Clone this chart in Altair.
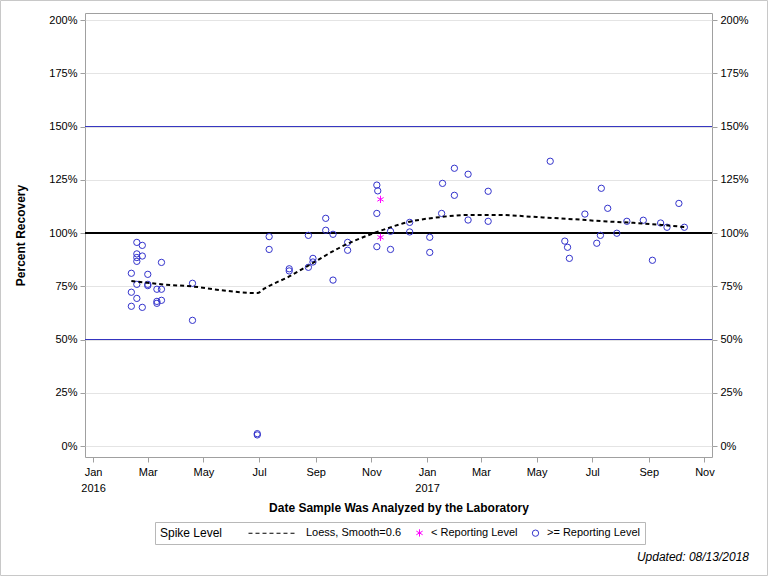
import altair as alt
import pandas as pd

# ---- data -------------------------------------------------------------
# Spike recoveries at or above the reporting level
ge_dates = [
    "2016-02-12", "2016-02-12", "2016-02-12",
    "2016-02-18", "2016-02-18", "2016-02-18", "2016-02-18", "2016-02-18", "2016-02-18",
    "2016-02-24", "2016-02-24", "2016-02-24",
    "2016-03-01", "2016-03-01", "2016-03-01",
    "2016-03-11", "2016-03-11", "2016-03-11",
    "2016-03-16", "2016-03-16", "2016-03-16",
    "2016-04-19", "2016-04-19",
    "2016-06-29", "2016-06-29",
    "2016-07-12", "2016-07-12",
    "2016-08-03", "2016-08-03",
    "2016-08-24", "2016-08-24",
    "2016-08-29", "2016-08-29",
    "2016-09-12", "2016-09-12",
    "2016-09-20", "2016-09-20",
    "2016-10-06", "2016-10-06",
    "2016-11-07", "2016-11-08", "2016-11-07", "2016-11-07",
    "2016-11-22", "2016-11-22",
    "2016-12-13", "2016-12-13",
    "2017-01-04", "2017-01-04",
    "2017-01-17", "2017-01-18",
    "2017-01-31", "2017-01-31",
    "2017-02-15", "2017-02-15",
    "2017-03-09", "2017-03-09",
    "2017-05-16",
    "2017-06-01", "2017-06-04", "2017-06-06",
    "2017-06-23",
    "2017-07-06", "2017-07-10", "2017-07-11", "2017-07-18", "2017-07-28",
    "2017-08-08", "2017-08-26",
    "2017-09-05", "2017-09-14", "2017-09-21",
    "2017-10-04", "2017-10-10",
]
ge_values = [
    81.1, 72.2, 65.6,
    95.6, 90.2, 88.5, 86.7, 75.9, 69.3,
    94.2, 89.2, 65.1,
    80.6, 75.9, 75.3,
    73.6, 67.9, 67.0,
    86.2, 73.6, 68.4,
    76.4, 59.0,
    5.2, 5.8,
    98.3, 92.3,
    83.2, 82.2,
    98.9, 83.9,
    88.1, 86.4,
    106.9, 101.3,
    99.4, 77.9,
    95.6, 91.9,
    122.5, 119.8, 109.2, 93.6,
    100.8, 92.3,
    105.0, 100.5,
    98.0, 90.9,
    109.2, 123.3,
    130.4, 117.7,
    127.6, 106.1,
    119.6, 105.5,
    133.7,
    96.2, 93.3, 88.1,
    108.9,
    95.2, 98.9, 121.0, 111.6, 99.9,
    105.5, 106.0,
    87.2, 104.7, 102.7,
    113.9, 102.7,
]

# Spike recoveries below the reporting level
lt_dates = ["2016-11-11", "2016-11-11"]
lt_values = [115.8, 98.0]

# Loess fit (smoothing parameter 0.6)
loess_dates = [
    "2016-02-12", "2016-03-20", "2016-04-19", "2016-05-20", "2016-06-29",
    "2016-07-07", "2016-08-03", "2016-08-22", "2016-09-28", "2016-11-08",
    "2016-12-13", "2017-01-16", "2017-02-15", "2017-03-20", "2017-05-01",
    "2017-06-10", "2017-07-10", "2017-08-15", "2017-09-15", "2017-10-10",
]
loess_values = [
    77.5, 75.8, 74.9, 73.2, 71.8,
    74.0, 79.6, 84.2, 93.3, 100.6,
    105.3, 107.5, 108.5, 108.5, 107.5,
    106.5, 105.6, 104.8, 103.8, 102.8,
]

ref_blue = [50, 150]
ref_black = [100]

series_names = ["Loess, Smooth=0.6", "< Reporting Level", ">= Reporting Level"]
series_colors = ["black", "#ff00ff", "#3333cc"]
y_ticks = [0, 25, 50, 75, 100, 125, 150, 175, 200]
x_ticks = [(2016, m) for m in (1, 3, 5, 7, 9, 11)] + [(2017, m) for m in (1, 3, 5, 7, 9, 11)]
updated_text = "Updated: 08/13/2018"

# ---- tables -------------------------------------------------------------
points = pd.DataFrame({
    "date": [d + "T00:00:00" for d in lt_dates + ge_dates],
    "pct": lt_values + ge_values,
    "series": [series_names[1]] * len(lt_dates) + [series_names[2]] * len(ge_dates),
})
loess = pd.DataFrame({
    "date": [d + "T00:00:00" for d in loess_dates],
    "pct": loess_values,
})

# ---- symbols ------------------------------------------------------------
PT_SIZE = 40
unit = (PT_SIZE ** 0.5) / 2.0  # custom symbol paths are scaled by sqrt(size)/2
# dashed line used as the loess legend key
dash_px = [(-46 + 7 * i, -42 + 7 * i) for i in range(7)]
dash_path = "".join(f"M{a / unit:.3f},0L{b / unit:.3f},0" for a, b in dash_px)
asterisk_path = "M0,-1.15L0,1.15M-1,-0.58L1,0.58M-1,0.58L1,-0.58"
series_shapes = [dash_path, asterisk_path, "circle"]

FONT = "Liberation Sans"

x_scale = alt.Scale(domain=[
    alt.DateTime(year=2015, month=12, date=23, hours=5),
    alt.DateTime(year=2017, month=11, date=9, hours=7),
])
y_scale = alt.Scale(domain=[-5.16, 203.3], nice=False, zero=False)

x_axis = alt.Axis(
    values=[alt.DateTime(year=y, month=m, date=1) for y, m in x_ticks],
    labelExpr="month(datum.value) == 0 ? [timeFormat(datum.value, '%b'), timeFormat(datum.value, '%Y')] : timeFormat(datum.value, '%b')",
    title="Date Sample Was Analyzed by the Laboratory",
    titleFontSize=12, titleFontWeight="bold", titlePadding=9,
    labelFontSize=11, labelLineHeight=16, labelPadding=4,
    tickSize=5, grid=False, domain=False, labelFlush=False, labelOverlap=False,
)
y_axis_left = alt.Axis(
    values=y_ticks, labelExpr="datum.value + '%'",
    title="Percent Recovery", titleFontSize=12, titleFontWeight="bold", titlePadding=21,
    labelFontSize=11, labelPadding=3, tickSize=5,
    grid=True, gridColor="#e4e4e4", domain=False,
)
y_axis_right = alt.Axis(
    values=y_ticks, labelExpr="datum.value + '%'", orient="right",
    title=None, labelFontSize=11, labelPadding=3, tickSize=5,
    grid=False, domain=False,
)

X = alt.X("date:T", scale=x_scale, axis=x_axis, title=x_axis.title)

# left axis with grid
grid_layer = alt.Chart(points).mark_point(opacity=0).encode(
    x=X, y=alt.Y("pct:Q", scale=y_scale, axis=y_axis_left),
)

# mirrored axis on the right
right_axis_layer = alt.Chart(points).mark_point(opacity=0).encode(
    x=X, y=alt.Y("pct:Q", scale=y_scale, axis=y_axis_right),
)

blue_refs = alt.Chart(pd.DataFrame({"pct": ref_blue})).mark_rule(
    color="#3434c0", strokeWidth=1
).encode(y=alt.Y("pct:Q", scale=y_scale, axis=None))

black_ref = alt.Chart(pd.DataFrame({"pct": ref_black})).mark_rule(
    color="black", strokeWidth=2
).encode(y=alt.Y("pct:Q", scale=y_scale, axis=None))

point_layer = alt.Chart(points).mark_point(
    filled=False, size=PT_SIZE, strokeWidth=1, opacity=1
).encode(
    x=X,
    y=alt.Y("pct:Q", scale=y_scale, axis=None),
    color=alt.Color("series:N", scale=alt.Scale(domain=series_names, range=series_colors),
                    legend=alt.Legend(title="Spike Level")),
    shape=alt.Shape("series:N", scale=alt.Scale(domain=series_names, range=series_shapes),
                    legend=alt.Legend(title="Spike Level")),
)

loess_layer = alt.Chart(loess).mark_line(
    color="black", strokeDash=[4, 3], strokeWidth=2, interpolate="monotone"
).encode(
    x=X, y=alt.Y("pct:Q", scale=y_scale, axis=None),
)

# light frame around the whole graphic
frame = alt.Chart(pd.DataFrame({"k": [0]})).mark_rect(
    fill=None, stroke="#c8c8c8", strokeWidth=1
).encode(
    x=alt.value(-84.5), x2=alt.value(682.5),
    y=alt.value(-12.5), y2=alt.value(562.5),
)

# footnote in the lower right corner
footnote = alt.Chart(pd.DataFrame({"t": [updated_text]})).mark_text(
    align="right", baseline="alphabetic", fontStyle="italic", fontSize=12,
    font=FONT, color="black",
).encode(text="t:N", x=alt.value(664), y=alt.value(548))

chart = alt.layer(
    grid_layer, right_axis_layer, blue_refs, black_ref, point_layer, loess_layer,
    frame, footnote,
).resolve_axis(y="independent").properties(
    width=627, height=444,
    autosize=alt.AutoSizeParams(type="none"),
    padding={"left": 85, "top": 13, "right": 56, "bottom": 119},
).configure(
    font=FONT,
    background="white",
).configure_view(
    stroke="#a0a0a0", strokeWidth=1,
).configure_axis(
    labelColor="black", titleColor="black", tickColor="#a0a0a0",
    labelFont=FONT, titleFont=FONT,
).configure_legend(
    orient="none", legendX=70, legendY=509,
    direction="horizontal", titleOrient="left", titleFontSize=12,
    titleFontWeight="normal", titleColor="black", titleBaseline="middle",
    titlePadding=66, labelFontSize=11, labelColor="black", labelOffset=6,
    columnPadding=12, symbolSize=PT_SIZE, symbolStrokeWidth=1,
    symbolFillColor="transparent", strokeColor="#b8b8b8", padding=5,
    labelFont=FONT, titleFont=FONT,
)

chart.save("out.html", embed_options={"renderer": "svg", "actions": False})
